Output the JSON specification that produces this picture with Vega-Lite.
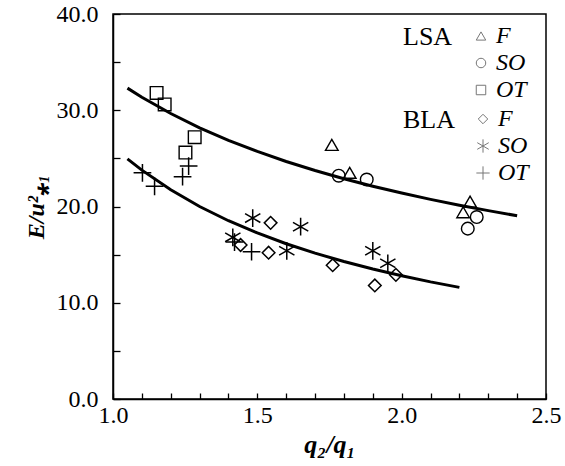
{
  "$schema": "https://vega.github.io/schema/vega-lite/v6.json",
  "width": 433,
  "height": 385,
  "autosize": {"type": "none"},
  "padding": {"left": 113, "top": 14, "right": 19, "bottom": 67},
  "background": "white",
  "config": {
    "view": {"stroke": "black", "strokeWidth": 1.5},
    "font": "Liberation Serif",
    "axis": {"ticks": true, "tickColor": "black", "tickWidth": 1.3}
  },
  "datasets": {
    "curves": [
      {"curve": "LSA", "x": 1.05, "y": 32.3},
      {"curve": "LSA", "x": 1.1, "y": 31.35},
      {"curve": "LSA", "x": 1.2, "y": 29.66},
      {"curve": "LSA", "x": 1.3, "y": 28.18},
      {"curve": "LSA", "x": 1.4, "y": 26.88},
      {"curve": "LSA", "x": 1.5, "y": 25.72},
      {"curve": "LSA", "x": 1.6, "y": 24.68},
      {"curve": "LSA", "x": 1.7, "y": 23.74},
      {"curve": "LSA", "x": 1.8, "y": 22.89},
      {"curve": "LSA", "x": 1.9, "y": 22.11},
      {"curve": "LSA", "x": 2.0, "y": 21.4},
      {"curve": "LSA", "x": 2.1, "y": 20.74},
      {"curve": "LSA", "x": 2.2, "y": 20.13},
      {"curve": "LSA", "x": 2.3, "y": 19.57},
      {"curve": "LSA", "x": 2.4, "y": 19.04},
      {"curve": "BLA", "x": 1.05, "y": 24.95},
      {"curve": "BLA", "x": 1.1, "y": 23.78},
      {"curve": "BLA", "x": 1.2, "y": 21.73},
      {"curve": "BLA", "x": 1.3, "y": 20.0},
      {"curve": "BLA", "x": 1.4, "y": 18.52},
      {"curve": "BLA", "x": 1.5, "y": 17.25},
      {"curve": "BLA", "x": 1.6, "y": 16.13},
      {"curve": "BLA", "x": 1.7, "y": 15.15},
      {"curve": "BLA", "x": 1.8, "y": 14.28},
      {"curve": "BLA", "x": 1.9, "y": 13.5},
      {"curve": "BLA", "x": 2.0, "y": 12.81},
      {"curve": "BLA", "x": 2.1, "y": 12.17},
      {"curve": "BLA", "x": 2.2, "y": 11.6}
    ],
    "lsa": [
      {"s": "F", "x": 1.758, "y": 26.4},
      {"s": "F", "x": 1.82, "y": 23.5},
      {"s": "F", "x": 2.237, "y": 20.5},
      {"s": "F", "x": 2.213, "y": 19.4},
      {"s": "SO", "x": 1.782, "y": 23.2},
      {"s": "SO", "x": 1.879, "y": 22.8},
      {"s": "SO", "x": 2.26, "y": 18.9},
      {"s": "SO", "x": 2.229, "y": 17.7},
      {"s": "OT", "x": 1.151, "y": 31.8},
      {"s": "OT", "x": 1.179, "y": 30.6},
      {"s": "OT", "x": 1.283, "y": 27.2},
      {"s": "OT", "x": 1.251, "y": 25.6}
    ],
    "bla": [
      {"s": "F", "x": 1.546, "y": 18.3},
      {"s": "F", "x": 1.442, "y": 16.0},
      {"s": "F", "x": 1.539, "y": 15.2},
      {"s": "F", "x": 1.761, "y": 13.9},
      {"s": "F", "x": 1.907, "y": 11.8},
      {"s": "F", "x": 1.98, "y": 12.9},
      {"s": "SO", "x": 1.484, "y": 18.8},
      {"s": "SO", "x": 1.65, "y": 17.9},
      {"s": "SO", "x": 1.415, "y": 16.8},
      {"s": "SO", "x": 1.602, "y": 15.4},
      {"s": "SO", "x": 1.9, "y": 15.4},
      {"s": "SO", "x": 1.952, "y": 14.1},
      {"s": "OT", "x": 1.102, "y": 23.5},
      {"s": "OT", "x": 1.144, "y": 22.1},
      {"s": "OT", "x": 1.241, "y": 23.1},
      {"s": "OT", "x": 1.262, "y": 24.2},
      {"s": "OT", "x": 1.421, "y": 16.3},
      {"s": "OT", "x": 1.48, "y": 15.3}
    ]
  },
  "encoding": {
    "x": {
      "field": "x", "type": "quantitative",
      "scale": {"domain": [1, 2.5], "nice": false, "zero": false},
      "axis": {
        "title": "q₂/q₁",
        "titleFont": "Liberation Serif", "titleFontSize": 26, "titleFontStyle": "italic", "titleFontWeight": "bold", "titleColor": "black", "titlePadding": 4,
        "values": [1.0, 1.1, 1.2, 1.3, 1.4, 1.5, 1.6, 1.7, 1.8, 1.9, 2.0, 2.1, 2.2, 2.3, 2.4, 2.5],
        "labelExpr": "abs(datum.value*2 - round(datum.value*2)) < 0.01 ? format(datum.value, '.1f') : ''",
        "labelFont": "Liberation Serif", "labelFontSize": 24, "labelColor": "black", "labelPadding": 10,
        "labelFlush": false, "labelOverlap": false,
        "tickSize": -6,
        "domainColor": "black", "domainWidth": 1.5, "grid": false
      }
    },
    "y": {
      "field": "y", "type": "quantitative",
      "scale": {"domain": [0, 40], "nice": false},
      "axis": {
        "title": "E/u²⁎₁",
        "titleFont": "Liberation Serif", "titleFontSize": 24, "titleFontStyle": "italic", "titleFontWeight": "bold", "titleColor": "black", "titlePadding": 8,
        "values": [0, 5, 10, 15, 20, 25, 30, 35, 40],
        "labelExpr": "datum.value % 10 == 0 ? format(datum.value, '.1f') : ''",
        "labelFont": "Liberation Serif", "labelFontSize": 24, "labelColor": "black", "labelPadding": 22,
        "labelFlush": false, "labelOverlap": false,
        "tickSize": -7,
        "domainColor": "black", "domainWidth": 1.5, "grid": false
      }
    }
  },
  "layer": [
    {
      "data": {"name": "curves"},
      "mark": {"type": "line", "color": "black", "strokeWidth": 3},
      "encoding": {"detail": {"field": "curve"}}
    },
    {
      "data": {"name": "lsa"},
      "mark": {"type": "point", "filled": false, "color": "black", "strokeWidth": 1.4, "size": 160, "opacity": 1},
      "encoding": {
        "shape": {
          "field": "s", "type": "nominal",
          "scale": {"domain": ["F", "SO", "OT"], "range": ["triangle-up", "circle", "square"]},
          "legend": {
            "title": "LSA", "orient": "none", "legendX": 290, "legendY": 10,
            "titleOrient": "left", "titleAnchor": "start", "titleBaseline": "top",
            "titleFont": "Liberation Serif", "titleFontSize": 26, "titleFontWeight": "normal", "titleColor": "black", "titlePadding": 16,
            "labelFont": "Liberation Serif", "labelFontSize": 24, "labelFontStyle": "italic", "labelColor": "black", "labelOffset": 3,
            "symbolStrokeColor": "#777", "symbolStrokeWidth": 1, "symbolSize": 90, "symbolFillColor": "transparent",
            "rowPadding": 3
          }
        }
      }
    },
    {
      "data": {"name": "bla"},
      "mark": {"type": "point", "filled": false, "color": "black", "strokeWidth": 1.5, "size": 160, "opacity": 1},
      "encoding": {
        "shape": {
          "field": "s", "type": "nominal",
          "scale": {"domain": ["F", "SO", "OT"], "range": ["diamond", "M0,-1.4L0,1.4M-1.21,-0.7L1.21,0.7M-1.21,0.7L1.21,-0.7", "M-1.4,0L1.4,0M0,-1.4L0,1.4"]},
          "legend": {
            "title": "BLA", "orient": "none", "legendX": 290, "legendY": 93,
            "titleOrient": "left", "titleAnchor": "start", "titleBaseline": "top",
            "titleFont": "Liberation Serif", "titleFontSize": 26, "titleFontWeight": "normal", "titleColor": "black", "titlePadding": 16,
            "labelFont": "Liberation Serif", "labelFontSize": 24, "labelFontStyle": "italic", "labelColor": "black", "labelOffset": 3,
            "symbolStrokeColor": "#777", "symbolStrokeWidth": 1, "symbolSize": 90, "symbolFillColor": "transparent",
            "rowPadding": 3
          }
        }
      }
    }
  ],
  "resolve": {"scale": {"shape": "independent"}, "legend": {"shape": "independent"}}
}
